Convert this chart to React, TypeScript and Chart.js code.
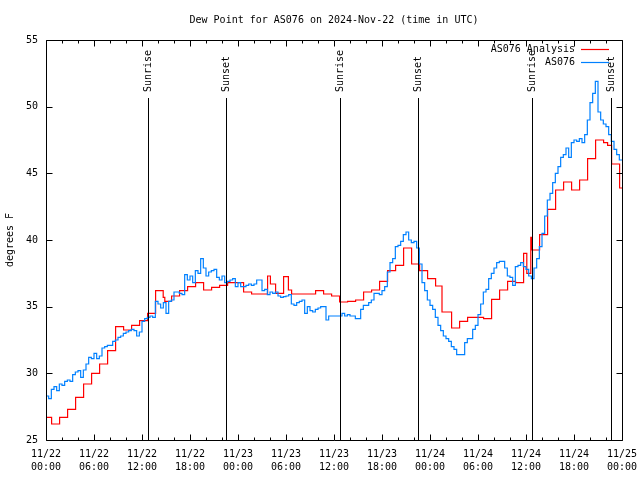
import React, { useEffect, useRef } from "react";
import { Chart, registerables } from "chart.js";

Chart.register(...registerables);

// ---------------- data ----------------
const TITLE = "Dew Point for AS076 on 2024-Nov-22 (time in UTC)";
const Y_TITLE = "degrees F";
const SERIES_NAMES = ["AS076 Analysis", "AS076"];
const SERIES_COLORS = ["#ff0000", "#0080ff"];
const Y_MIN = 25;
const Y_MAX = 55;
const Y_STEP = 5;
const X_MAX_HOURS = 72; // 11/22 00:00 .. 11/25 00:00 UTC
const X_MAJOR_HOURS = 6;
const X_MINOR_HOURS = 2;
const MONTH = 11;
const START_DAY = 22;

// Hourly analysis (hours since 11/22 00:00 UTC, °F)
const analysisHours = [
  0, 0.7, 1.7, 2.7, 3.7, 4.7, 5.7, 6.7, 7.7, 8.7, 9.7, 10.7, 11.7, 12.7, 13.7, 14.65, 14.85,
  15.7, 16.7, 17.7, 18.7, 19.7, 20.7, 21.7, 22.7, 23.7, 24.7, 25.7, 26.7, 27.7, 28.05, 28.7,
  29.7, 30.3, 30.7, 31.7, 32.7, 33.7, 34.7, 35.7, 36.7, 37.7, 38.7, 39.7, 40.7, 41.7, 42.7,
  43.7, 44.7, 45.7, 46.7, 47.7, 48.7, 49.5, 50.7, 51.7, 52.7, 53.7, 54.7, 55.7, 56.7, 57.7,
  58.7, 59.7, 60.1, 60.6, 60.7, 61.7, 62.7, 63.7, 64.7, 65.7, 66.7, 67.7, 68.7, 69.7, 70.2,
  70.7, 71.7, 72,
];
const analysisValues = [
  26.7, 26.2, 26.7, 27.3, 28.2, 29.2, 30.0, 30.7, 31.7, 33.5, 33.25, 33.6, 33.95, 34.5, 36.2, 35.7, 35.4,
  35.8, 36.2, 36.5, 36.8, 36.25, 36.45, 36.6, 36.8, 36.8, 36.1, 35.95, 35.95, 37.3, 36.7, 36.0,
  37.25, 36.25, 35.95, 35.95, 35.95, 36.2, 35.95, 35.8, 35.35, 35.4, 35.5, 36.1, 36.25, 36.9, 37.7,
  38.1, 39.4, 38.2, 37.7, 37.1, 36.55, 34.6, 33.4, 33.9, 34.2, 34.2, 34.1, 35.55, 36.25, 36.9,
  36.8, 39.0, 37.5, 40.2, 39.25, 40.4, 42.3, 43.75, 44.35, 43.75, 44.5, 46.1, 47.5, 47.3, 47.1,
  45.7, 43.9, 43.9,
];

// Station observations, one value every 20 minutes from 11/22 00:00 UTC (°F)
const obsIntervalHours = 1 / 3;
const obsValues = [
  28.3, 28.1, 28.8, 29.0, 28.7, 29.2, 29.1, 29.4, 29.5, 29.4, 29.9, 30.1,
  30.2, 29.7, 30.25, 30.7, 31.2, 31.1, 31.5, 31.1, 31.3, 31.9, 32.0, 32.1,
  32.1, 32.4, 32.5, 32.7, 32.8, 33.0, 33.1, 33.2, 33.3, 33.2, 32.8, 33.1,
  33.9, 34.1, 34.2, 34.3, 34.2, 35.4, 35.2, 34.9, 35.3, 34.5, 35.4, 35.5,
  36.1, 36.1, 36.0, 35.9, 37.4, 37.0, 37.3, 36.8, 37.7, 37.5, 38.6, 37.9,
  37.3, 37.6, 37.7, 37.8, 37.2, 37.0, 37.3, 36.8, 36.9, 37.0, 37.1, 36.5,
  36.8, 36.5, 36.5, 36.6, 36.7, 36.6, 36.7, 37.0, 37.0, 36.2, 36.3, 35.9,
  36.1, 36.0, 36.1, 35.8, 35.7, 35.75, 35.8, 35.9, 35.2, 35.1, 35.3, 35.4,
  35.5, 34.5, 35.0, 34.7, 34.6, 34.8, 34.9, 35.0, 35.0, 34.0, 34.3, 34.3,
  34.3, 34.3, 34.3, 34.5, 34.3, 34.4, 34.3, 34.3, 34.1, 34.1, 34.8, 35.1,
  35.1, 35.3, 35.5, 36.0, 36.0, 35.9, 36.2, 36.5, 37.6, 38.3, 38.6, 39.5,
  39.6, 39.9, 40.4, 40.6, 40.0, 39.8, 39.9, 39.4, 38.2, 36.8, 36.2, 35.5,
  35.1, 34.8, 34.2, 33.6, 33.2, 32.8, 32.6, 32.4, 32.0, 31.8, 31.4, 31.4,
  31.4, 32.3, 32.6, 32.6, 33.3, 33.6, 34.4, 35.2, 36.1, 36.3, 37.1, 37.5,
  37.9, 38.3, 38.4, 38.4, 37.9, 37.3, 37.2, 36.6, 38.0, 38.1, 38.3, 38.0,
  37.8, 37.3, 37.1, 37.9, 38.6, 39.5, 40.5, 41.8, 43.0, 43.5, 44.3, 45.0,
  45.5, 46.2, 46.4, 46.9, 46.2, 47.3, 47.5, 47.4, 47.6, 47.3, 47.9, 49.0,
  50.3, 51.0, 51.9, 49.6, 49.0, 48.7, 48.5, 47.9, 47.4, 46.8, 46.4, 46.0,
  46.0,
];

// Sunrise / sunset markers (hours since 11/22 00:00 UTC)
const sunLabels = ["Sunrise", "Sunset", "Sunrise", "Sunset", "Sunrise", "Sunset"];
const sunHours = [12.77, 22.53, 36.78, 46.55, 60.8, 70.57];

// ---------------- styling ----------------
const FONT_FAMILY = "'DejaVu Sans Mono', 'Liberation Mono', monospace";
const FONT = `10px ${FONT_FAMILY}`;

function pad2(n: number) {
  return n < 10 ? "0" + n : String(n);
}

function xLabel(h: number): string[] | string {
  if (h % X_MAJOR_HOURS !== 0) return "";
  const day = START_DAY + Math.floor(h / 24);
  const hr = h % 24;
  return [`${MONTH}/${day}`, `${pad2(hr)}:00`];
}

const decorPlugin = {
  id: "gnuplotDecor",
  afterDatasetsDraw(chart: any) {
    const { ctx, chartArea: a, scales } = chart;
    const xs = scales.x;
    const ys = scales.y;
    const L = Math.round(a.left) + 0.5;
    const R = Math.round(a.right) + 0.5;
    const T = Math.round(a.top) + 0.5;
    const B = Math.round(a.bottom) + 0.5;
    ctx.save();
    ctx.strokeStyle = "#000";
    ctx.lineWidth = 1;

    // sunrise / sunset lines
    const lineTop = ys.getPixelForValue(Y_MIN + (Y_MAX - Y_MIN) * 0.855);
    ctx.beginPath();
    sunHours.forEach((h) => {
      const px = Math.round(xs.getPixelForValue(h)) + 0.5;
      ctx.moveTo(px, Math.round(lineTop));
      ctx.lineTo(px, B);
    });
    ctx.stroke();

    ctx.fillStyle = "#000";
    ctx.font = FONT;
    sunHours.forEach((h, i) => {
      const px = Math.round(xs.getPixelForValue(h)) + 0.5;
      ctx.save();
      ctx.translate(px, Math.round(lineTop) - 6);
      ctx.rotate(-Math.PI / 2);
      ctx.textAlign = "left";
      ctx.textBaseline = "middle";
      ctx.fillText(sunLabels[i], 0, 0);
      ctx.restore();
    });

    // frame
    ctx.beginPath();
    ctx.rect(L, T, R - L, B - T);
    ctx.stroke();

    // x ticks (inward, top & bottom)
    ctx.beginPath();
    for (let h = 0; h <= X_MAX_HOURS; h += X_MINOR_HOURS) {
      const len = h % X_MAJOR_HOURS === 0 ? 6 : 3;
      const px = Math.round(xs.getPixelForValue(h)) + 0.5;
      ctx.moveTo(px, B);
      ctx.lineTo(px, B - len);
      ctx.moveTo(px, T);
      ctx.lineTo(px, T + len);
    }
    // y ticks (inward, left & right)
    for (let v = Y_MIN; v <= Y_MAX; v += Y_STEP) {
      const py = Math.round(ys.getPixelForValue(v)) + 0.5;
      ctx.moveTo(L, py);
      ctx.lineTo(L + 6, py);
      ctx.moveTo(R, py);
      ctx.lineTo(R - 6, py);
    }
    ctx.stroke();

    // title
    ctx.font = FONT;
    ctx.textAlign = "center";
    ctx.textBaseline = "middle";
    ctx.fillText(TITLE, (a.left + a.right) / 2, 20);

    // y-axis title
    ctx.save();
    ctx.translate(10, (a.top + a.bottom) / 2);
    ctx.rotate(-Math.PI / 2);
    ctx.textAlign = "center";
    ctx.textBaseline = "middle";
    ctx.fillText(Y_TITLE, 0, 0);
    ctx.restore();

    // legend (inside, top right)
    const legendRight = a.right - 47;
    SERIES_NAMES.forEach((name, i) => {
      const ly = a.top + 9 + i * 13;
      ctx.textAlign = "right";
      ctx.textBaseline = "middle";
      ctx.fillStyle = "#000";
      ctx.fillText(name, legendRight, ly);
      ctx.strokeStyle = SERIES_COLORS[i];
      ctx.lineWidth = 1.2;
      ctx.beginPath();
      ctx.moveTo(legendRight + 6, Math.round(ly) + 0.5);
      ctx.lineTo(legendRight + 34, Math.round(ly) + 0.5);
      ctx.stroke();
    });

    ctx.restore();
  },
};

export default function App() {
  const canvasRef = useRef<HTMLCanvasElement | null>(null);

  useEffect(() => {
    const canvas = canvasRef.current;
    if (!canvas) return;
    const chart = new Chart(canvas, {
      type: "line",
      data: {
        datasets: [
          {
            label: SERIES_NAMES[0],
            data: analysisHours.map((h, i) => ({ x: h, y: analysisValues[i] })),
            borderColor: SERIES_COLORS[0],
            backgroundColor: SERIES_COLORS[0],
            borderWidth: 1.2,
            pointRadius: 0,
            stepped: true,
            fill: false,
            order: 2,
          },
          {
            label: SERIES_NAMES[1],
            data: obsValues.map((v, i) => ({ x: i * obsIntervalHours, y: v })),
            borderColor: SERIES_COLORS[1],
            backgroundColor: SERIES_COLORS[1],
            borderWidth: 1.2,
            pointRadius: 0,
            stepped: true,
            fill: false,
            order: 1,
          },
        ],
      },
      options: {
        responsive: false,
        animation: false,
        events: [],
        layout: { padding: { top: 40, right: 18, bottom: 0, left: 0 } },
        plugins: {
          legend: { display: false },
          title: { display: false },
          tooltip: { enabled: false },
        },
        scales: {
          x: {
            type: "linear",
            min: 0,
            max: X_MAX_HOURS,
            grid: { display: false, drawTicks: false },
            border: { display: false },
            ticks: {
              stepSize: X_MAJOR_HOURS,
              autoSkip: false,
              maxRotation: 0,
              minRotation: 0,
              padding: 8,
              color: "#000",
              font: { family: FONT_FAMILY, size: 10, lineHeight: 1.3 },
              callback: (v: any) => xLabel(Number(v)),
            },
            afterFit: (s: any) => {
              s.height = 40;
              s.paddingLeft = 0;
              s.paddingRight = 0;
            },
          },
          y: {
            type: "linear",
            min: Y_MIN,
            max: Y_MAX,
            grid: { display: false, drawTicks: false },
            border: { display: false },
            ticks: {
              stepSize: Y_STEP,
              padding: 8,
              color: "#000",
              font: { family: FONT_FAMILY, size: 10 },
            },
            afterFit: (s: any) => {
              s.width = 46;
              s.paddingTop = 0;
              s.paddingBottom = 0;
            },
          },
        },
      } as any,
      plugins: [decorPlugin],
    });
    return () => chart.destroy();
  }, []);

  return (
    <div style={{ position: "fixed", left: 0, top: 0, width: 640, height: 480, background: "#fff" }}>
      <canvas ref={canvasRef} width={640} height={480} style={{ display: "block" }} />
    </div>
  );
}
